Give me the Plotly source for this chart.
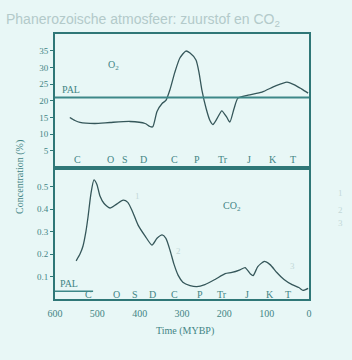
import plotly.graph_objects as go

# ---- data (time in MYBP, concentrations in %) ----
o2_time = [565, 553, 541, 506, 470, 423, 387, 376, 369, 359, 347, 338, 328, 317, 305, 291, 281,
           267, 260, 253, 243, 234, 227, 217, 206, 194, 187, 177, 168, 144, 111, 80, 52, 33, 17, 2]
o2_vals = [15.0, 14.1, 13.5, 13.2, 13.5, 13.8, 13.2, 12.3, 12.2, 16.8, 19.2, 20.1, 23.5, 28.5, 32.8, 34.9, 34.3,
           32.2, 28.6, 23.2, 17.7, 14.1, 12.9, 14.7, 17.0, 15.0, 13.6, 17.7, 20.8, 21.7, 22.6, 24.4, 25.6, 24.7, 23.5, 22.3]

co2_time = [550, 541, 534, 527, 522, 515, 508, 501, 494, 484, 470, 456, 439, 428, 416, 404, 387, 371,
            359, 347, 338, 328, 319, 309, 298, 281, 265, 246, 222, 198, 182, 163, 151, 139, 132, 121,
            106, 92, 76, 59, 40, 24, 14, 2]
co2_vals = [0.17, 0.20, 0.235, 0.30, 0.365, 0.47, 0.53, 0.51, 0.46, 0.425, 0.405, 0.42, 0.44, 0.43, 0.385,
            0.33, 0.28, 0.24, 0.27, 0.285, 0.27, 0.215, 0.155, 0.105, 0.075, 0.06, 0.055, 0.064, 0.087,
            0.113, 0.118, 0.13, 0.14, 0.113, 0.104, 0.144, 0.167, 0.153, 0.118, 0.087, 0.064, 0.051,
            0.038, 0.047]

pal_o2 = 21.0
pal_co2 = 0.035
pal_co2_span = [600, 510]

period_names = ["C", "O", "S", "D", "C", "P", "Tr", "J", "K", "T"]
period_mid_top = [546, 470, 435, 392, 317, 265, 203, 142, 85, 38]
period_mid_bot = [522, 454, 411, 369, 317, 257, 206, 146, 92, 50]

x_ticks = [600, 500, 400, 300, 200, 100, 0]
o2_ticks = [5, 10, 15, 20, 25, 30, 35]
co2_ticks = [0.1, 0.2, 0.3, 0.4, 0.5]

# ---- styles ----
bg = "#e8f7f6"
frame = "#2f7777"
curve = "#35575a"
txt = "#438585"
faint = "#c3d8d8"
serif = "Liberation Serif"

fig = go.Figure()
fig.add_trace(go.Scatter(x=o2_time, y=o2_vals, mode="lines", line=dict(color=curve, width=1.3, shape="spline", smoothing=0.6),
                         xaxis="x2", yaxis="y2", showlegend=False, hoverinfo="skip"))
fig.add_trace(go.Scatter(x=[600, 0], y=[pal_o2, pal_o2], mode="lines", line=dict(color="#3d8888", width=2),
                         xaxis="x2", yaxis="y2", showlegend=False, hoverinfo="skip"))
fig.add_trace(go.Scatter(x=co2_time, y=co2_vals, mode="lines", line=dict(color=curve, width=1.3, shape="spline", smoothing=0.6),
                         xaxis="x", yaxis="y", showlegend=False, hoverinfo="skip"))
fig.add_trace(go.Scatter(x=pal_co2_span, y=[pal_co2, pal_co2], mode="lines", line=dict(color="#3d8888", width=1.5),
                         xaxis="x", yaxis="y", showlegend=False, hoverinfo="skip"))

split = 0.496
common_x = dict(range=[600, 0], showgrid=False, zeroline=False, showline=True, mirror=True,
                linecolor=frame, linewidth=2)
fig.update_layout(
    width=352, height=360,
    margin=dict(l=55, r=43, t=34, b=61),
    paper_bgcolor=bg, plot_bgcolor=bg,
    font=dict(family=serif, color=txt, size=10),
    xaxis=dict(**common_x, anchor="y", tickmode="array", tickvals=x_ticks,
               ticktext=[str(v) for v in x_ticks], ticks="outside", ticklen=4, tickcolor=bg,
               tickfont=dict(size=10, color=txt)),
    xaxis2=dict(**common_x, anchor="y2", matches="x", showticklabels=False, ticks=""),
    yaxis=dict(domain=[0, split], range=[0, 0.585], showgrid=False, zeroline=False, showline=True, mirror=True,
               linecolor=frame, linewidth=2, tickmode="array", tickvals=co2_ticks,
               ticktext=[f"{v:.1f}" for v in co2_ticks], ticks="outside", ticklen=3, tickcolor=frame,
               tickfont=dict(size=9, color=txt)),
    yaxis2=dict(domain=[split, 1], range=[0, 40], showgrid=False, zeroline=False, showline=True, mirror=True,
                linecolor=frame, linewidth=2, tickmode="array", tickvals=o2_ticks,
                ticktext=[str(v) for v in o2_ticks], ticks="outside", ticklen=3, tickcolor=frame,
                tickfont=dict(size=9, color=txt)),
)

ann = []
for name, t in zip(period_names, period_mid_top):
    ann.append(dict(x=t, y=2.5, xref="x2", yref="y2", text=name, showarrow=False,
                    font=dict(size=10, color=txt)))
for name, t in zip(period_names, period_mid_bot):
    ann.append(dict(x=t, y=0.018, xref="x", yref="y", text=name, showarrow=False,
                    font=dict(size=10, color=txt)))
ann += [
    dict(x=588, y=pal_o2, xref="x2", yref="y2", text="PAL", showarrow=False, xanchor="left", yanchor="bottom",
         font=dict(size=10, color=txt)),
    dict(x=592, y=pal_co2, xref="x", yref="y", text="PAL", showarrow=False, xanchor="left", yanchor="bottom",
         font=dict(size=10, color=txt)),
    dict(x=463, y=30.7, xref="x2", yref="y2", text="O<sub>2</sub>", showarrow=False, font=dict(size=10, color=txt)),
    dict(x=182, y=0.41, xref="x", yref="y", text="CO<sub>2</sub>", showarrow=False, font=dict(size=10, color=txt)),
    dict(x=406, y=0.46, xref="x", yref="y", text="1", showarrow=False, font=dict(size=9, color=faint)),
    dict(x=309, y=0.215, xref="x", yref="y", text="2", showarrow=False, font=dict(size=9, color=faint)),
    dict(x=38, y=0.145, xref="x", yref="y", text="3", showarrow=False, font=dict(size=9, color=faint)),
    dict(x=1.14, y=0.40, xref="paper", yref="paper", text="1", showarrow=False, font=dict(size=9, color=faint)),
    dict(x=1.14, y=0.336, xref="paper", yref="paper", text="2", showarrow=False, font=dict(size=9, color=faint)),
    dict(x=1.14, y=0.26, xref="paper", yref="paper", text="3", showarrow=False, font=dict(size=9, color=faint)),
    dict(x=-0.17, y=0.46, xref="paper", yref="paper", text="Concentration (%)", showarrow=False, textangle=-90,
         font=dict(size=10, color=txt)),
    dict(x=0.51, y=-0.15, xref="paper", yref="paper", text="Time (MYBP)", showarrow=False,
         font=dict(size=10, color=txt)),
    dict(x=-0.2, y=1.095, xref="paper", yref="paper", xanchor="left", text="Phanerozoische atmosfeer: zuurstof en CO<sub>2</sub>",
         showarrow=False, font=dict(family="Liberation Sans", size=14, color="#b3caca")),
]
fig.update_layout(annotations=ann)

fig.write_html("out.html")
